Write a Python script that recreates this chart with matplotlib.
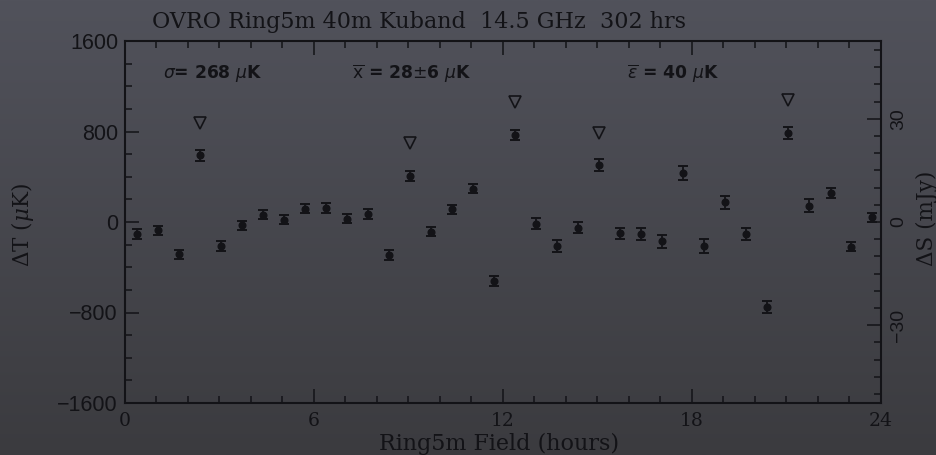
import numpy as np
import matplotlib
matplotlib.use("Agg")
import matplotlib.pyplot as plt
from matplotlib.colors import LinearSegmentedColormap
from matplotlib.ticker import MultipleLocator

# field centres (hours of RA) and temperature differences
field_hours = [0.39, 1.06, 1.72, 2.38, 3.05, 3.72, 4.38, 5.04, 5.72, 6.39,
               7.05, 7.71, 8.39, 9.05, 9.71, 10.39, 11.05, 11.71, 12.39, 13.06,
               13.72, 14.38, 15.06, 15.72, 16.39, 17.06, 17.73, 18.38, 19.05, 19.73,
               20.38, 21.05, 21.73, 22.40, 23.05, 23.72]
delta_t = [-106, -71, -286, 590, -212, -29, 65, 18, 118, 124,
           30, 71, -292, 407, -85, 112, 295, -524, 773, -14,
           -212, -50, 501, -100, -106, -171, 433, -209, 174, -103,
           -748, 787, 145, 254, -218, 42]
delta_t_err = [41, 40, 40, 47, 40, 40, 42, 40, 40, 41,
               40, 41, 41, 42, 40, 41, 42, 44, 44, 47,
               50, 47, 53, 49, 50, 57, 62, 62, 56, 53,
               52, 55, 57, 43, 37, 40]

# flagged fields (open triangles)
flag_hours = [2.38, 9.05, 12.39, 15.06, 21.05]
flag_levels = [879, 702, 1061, 790, 1076]

UK_PER_MJY = 30.4
title = "OVRO Ring5m 40m Kuband  14.5 GHz  302 hrs"

ink = "#131317"
W, H = 937, 455

fig = plt.figure(figsize=(W / 100, H / 100), dpi=100)

# soft vertical background gradient
bg = fig.add_axes([0, 0, 1, 1], zorder=-10)
grad = np.linspace(0, 1, 256).reshape(-1, 1)
cmap = LinearSegmentedColormap.from_list("bg", ["#51525b", "#3b3b3f"])
bg.imshow(grad, aspect="auto", cmap=cmap, extent=[0, 1, 0, 1])
bg.axis("off")

left, right, bottom, top = 125, 881, 403, 41
ax = fig.add_axes([left / W, 1 - bottom / H, (right - left) / W, (bottom - top) / H])
ax.set_facecolor("none")

ax.errorbar(field_hours, delta_t, yerr=delta_t_err, fmt="o", color=ink,
            markersize=4.8, elinewidth=1.3, capsize=3.3, capthick=1.4)
ax.plot(flag_hours, flag_levels, "v", markersize=8.2, markerfacecolor="none",
        markeredgecolor=ink, markeredgewidth=1.2)

ax.set_xlim(0, 24)
ax.set_ylim(-1600, 1600)
ax.xaxis.set_major_locator(MultipleLocator(6))
ax.xaxis.set_minor_locator(MultipleLocator(1))
ax.yaxis.set_major_locator(MultipleLocator(800))
ax.yaxis.set_minor_locator(MultipleLocator(200))

for s in ax.spines.values():
    s.set_color(ink)
    s.set_linewidth(1.5)

ax.tick_params(which="both", direction="in", color=ink, top=True, right=False, width=1.1)
ax.tick_params(which="major", length=10)
ax.tick_params(which="minor", length=5)
ax.tick_params(axis="x", pad=6.5, labelsize=13.5, labelcolor=ink)
ax.tick_params(axis="y", pad=5, labelsize=15.5, labelcolor=ink)
for lab in ax.get_xticklabels():
    lab.set_family("DejaVu Serif")
for lab in ax.get_yticklabels():
    lab.set_family("Liberation Sans")

# flux density scale on the right
ax2 = ax.twinx()
ax2.set_ylim(-1600 / UK_PER_MJY, 1600 / UK_PER_MJY)
ax2.yaxis.set_major_locator(MultipleLocator(30))
ax2.yaxis.set_minor_locator(MultipleLocator(5))
for s in ax2.spines.values():
    s.set_visible(False)
ax2.tick_params(which="both", direction="in", color=ink, width=1.1)
ax2.tick_params(which="major", length=10)
ax2.tick_params(which="minor", length=5)
ax2.tick_params(axis="y", pad=6.5, labelsize=14, labelcolor=ink, labelrotation=90)
for lab in ax2.get_yticklabels():
    lab.set_family("Liberation Sans")
    lab.set_verticalalignment("center")

# statistics along the top
stat_kw = dict(transform=ax.transAxes, fontsize=12.3, fontweight="bold", color=ink,
               family="DejaVu Sans", va="center", math_fontfamily="dejavusans")
ax.text(0.050, 0.909, r"$\sigma$= 268 $\mu$K", **stat_kw)
ax.text(0.300, 0.909, r"$\overline{\mathrm{x}}$ = 28$\pm$6 $\mu$K", **stat_kw)
ax.text(0.664, 0.909, r"$\overline{\varepsilon}$ = 40 $\mu$K", **stat_kw)

fig.text(152 / W, 1 - 28 / H, title, family="DejaVu Serif", fontsize=16,
         color=ink, ha="left", va="baseline")
fig.text(499 / W, 1 - 450 / H, "Ring5m Field (hours)", family="DejaVu Serif",
         fontsize=16, color=ink, ha="center", va="baseline")
fig.text(23 / W, 1 - 225 / H, r"$\Delta$T ($\mu$K)", family="DejaVu Serif",
         math_fontfamily="dejavuserif", fontsize=15.5, color=ink,
         rotation=90, ha="center", va="center")
fig.text(927 / W, 1 - 218 / H, "ΔS (mJy)", family="DejaVu Serif",
         fontsize=15.5, color=ink, rotation=90, ha="center", va="center")

fig.savefig("out.png", dpi=100)
